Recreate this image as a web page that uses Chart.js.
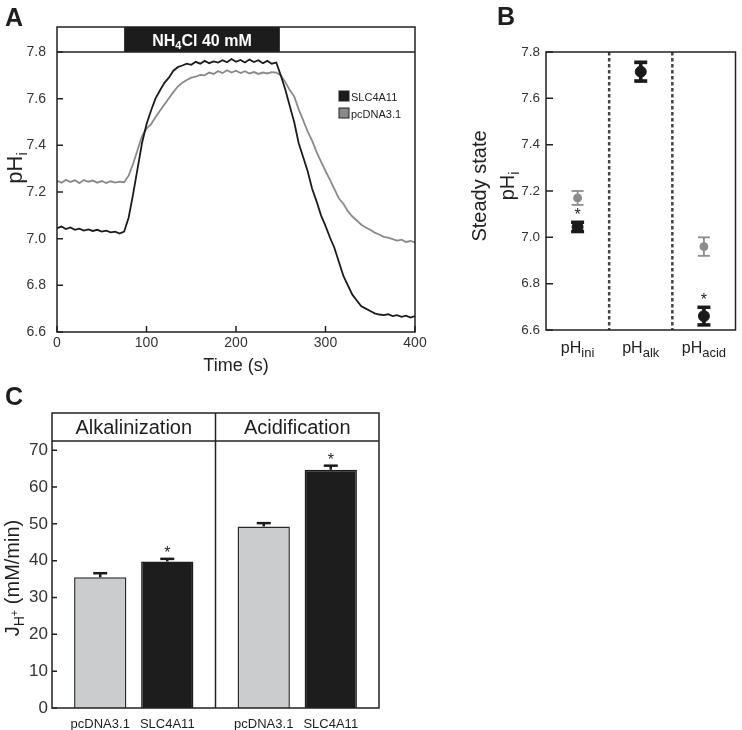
<!DOCTYPE html>
<html>
<head>
<meta charset="utf-8">
<script src="https://cdn.jsdelivr.net/npm/chart.js@4.4.0/dist/chart.umd.min.js"></script>
<style>
  body { margin: 0; background: #fff; width: 742px; height: 730px; position: relative; overflow: hidden;
         font-family: "Liberation Sans", Arial, sans-serif; }
  canvas { position: absolute; }
  .letter { position: absolute; font-weight: bold; font-size: 25px; line-height: 25px; color: #1e1e1e; }
</style>
</head>
<body>
<canvas id="chart-a" style="left:0;top:0" width="430" height="380"></canvas>
<canvas id="chart-b" style="left:440px;top:0" width="302" height="380"></canvas>
<canvas id="chart-c" style="left:0;top:380px" width="420" height="350"></canvas>
<div class="letter" style="left:5px;top:5px">A</div>
<div class="letter" style="left:497px;top:4px">B</div>
<div class="letter" style="left:5px;top:384px">C</div>
<script>
// ---- panel A: pHi trace (values read every 5 s) ----
const timeS = Array.from({ length: 81 }, (_, i) => i * 5);
const phSlc = [
  7.045, 7.052, 7.041, 7.048, 7.038, 7.043, 7.035, 7.040, 7.033, 7.038,
  7.030, 7.034, 7.027, 7.030, 7.022, 7.030, 7.090, 7.190, 7.300, 7.410,
  7.490, 7.548, 7.600, 7.635, 7.668, 7.690, 7.720, 7.735, 7.742, 7.750,
  7.745, 7.758, 7.750, 7.762, 7.752, 7.760, 7.755, 7.765, 7.756, 7.770,
  7.758, 7.766, 7.755, 7.768, 7.757, 7.765, 7.752, 7.762, 7.750, 7.755,
  7.700, 7.640, 7.570, 7.500, 7.410, 7.350, 7.290, 7.215, 7.160, 7.100,
  7.055, 7.005, 6.960, 6.900, 6.840, 6.800, 6.760, 6.735, 6.710, 6.700,
  6.690, 6.680, 6.675, 6.672, 6.676, 6.668, 6.672, 6.665, 6.670, 6.662,
  6.668
];
const phPc = [
  7.248, 7.240, 7.252, 7.243, 7.250, 7.238, 7.251, 7.244, 7.249, 7.240,
  7.247, 7.238, 7.246, 7.240, 7.244, 7.242, 7.270, 7.320, 7.380, 7.440,
  7.472, 7.490, 7.520, 7.548, 7.575, 7.602, 7.628, 7.652, 7.668, 7.680,
  7.690, 7.694, 7.702, 7.700, 7.712, 7.706, 7.718, 7.710, 7.722, 7.712,
  7.720, 7.710, 7.718, 7.708, 7.714, 7.706, 7.712, 7.708, 7.714, 7.712,
  7.700, 7.672, 7.637, 7.610, 7.555, 7.508, 7.460, 7.420, 7.372, 7.330,
  7.290, 7.252, 7.212, 7.172, 7.150, 7.118, 7.095, 7.078, 7.060, 7.048,
  7.038, 7.026, 7.018, 7.008, 7.004, 6.998, 6.992, 6.996, 6.986, 6.990,
  6.984
];
const pulseStart = 75;
const pulseEnd = 249;

// ---- panel B: steady state pHi ----
const ssCats = ["ini", "alk", "acid"];
const ssPcMean = [7.17, 7.715, 6.96];
const ssPcErr = [0.03, 0.045, 0.04];
const ssSlcMean = [7.045, 7.715, 6.66];
const ssSlcErr = [0.02, 0.04, 0.038];
const ssSig = [true, false, true];

// ---- panel C: proton flux ----
const fluxGroups = ["Alkalinization", "Acidification"];
const fluxCells = ["pcDNA3.1", "SLC4A11"];
const fluxPc = [35.5, 49.3];
const fluxPcErr = [1.1, 0.9];
const fluxSlc = [39.8, 64.7];
const fluxSlcErr = [0.7, 1.1];
const fluxSig = [true, true];
const fluxTicks = [0, 10, 20, 30, 40, 50, 60, 70];

const FONT = '"Liberation Sans", Arial, Helvetica, sans-serif';
Chart.defaults.font.family = FONT;
Chart.defaults.color = "#333";

// draw text made of pieces [text, size, dy, bold]
function textRun(ctx, parts, x, y, align) {
  let w = 0;
  parts.forEach(p => {
    ctx.font = (p[3] ? "bold " : "") + p[1] + "px " + FONT;
    w += ctx.measureText(p[0]).width;
  });
  let cx = align === "center" ? x - w / 2 : x;
  ctx.textAlign = "left";
  ctx.textBaseline = "alphabetic";
  parts.forEach(p => {
    ctx.font = (p[3] ? "bold " : "") + p[1] + "px " + FONT;
    ctx.fillText(p[0], cx, y + (p[2] || 0));
    cx += ctx.measureText(p[0]).width;
  });
}

function rotatedRun(ctx, parts, x, y) {
  ctx.save();
  ctx.translate(x, y);
  ctx.rotate(-Math.PI / 2);
  textRun(ctx, parts, 0, 0, "center");
  ctx.restore();
}

function inTicks(ctx, scale, a, len) {
  ctx.beginPath();
  scale.ticks.forEach(t => {
    const p = scale.getPixelForValue(t.value);
    if (scale.axis === "x") { ctx.moveTo(p, a.bottom); ctx.lineTo(p, a.bottom - len); }
    else { ctx.moveTo(a.left, p); ctx.lineTo(a.left + len, p); }
  });
  ctx.stroke();
}

function hline(ctx, x0, x1, y) { ctx.beginPath(); ctx.moveTo(x0, y); ctx.lineTo(x1, y); ctx.stroke(); }
function vline(ctx, x, y0, y1) { ctx.beginPath(); ctx.moveTo(x, y0); ctx.lineTo(x, y1); ctx.stroke(); }

// ================= A =================
const panelA = {
  id: "panelA",
  afterDraw(chart) {
    const { ctx, chartArea: a, scales: { x, y } } = chart;
    const barTop = 27;
    ctx.save();
    const x0 = x.getPixelForValue(pulseStart), x1 = x.getPixelForValue(pulseEnd);
    ctx.fillStyle = "#1c1c1c";
    ctx.fillRect(x0, barTop, x1 - x0, a.top - barTop);
    ctx.fillStyle = "#fff";
    textRun(ctx, [["NH", 16, 0, true], ["4", 11, 3, true], ["Cl 40 mM", 16, 0, true]], (x0 + x1) / 2, 46, "center");

    ctx.strokeStyle = "#222";
    ctx.lineWidth = 1.5;
    ctx.strokeRect(a.left, barTop, a.right - a.left, a.bottom - barTop);
    hline(ctx, a.left, a.right, a.top);
    inTicks(ctx, x, a, 6);
    inTicks(ctx, y, a, 6);

    // legend
    ctx.lineWidth = 1;
    ctx.fillStyle = "#1b1b1b";
    ctx.fillRect(339, 91, 10, 10);
    ctx.strokeRect(339, 91, 10, 10);
    ctx.fillStyle = "#8a8a8a";
    ctx.fillRect(339, 108, 10, 10);
    ctx.strokeRect(339, 108, 10, 10);
    ctx.fillStyle = "#222";
    textRun(ctx, [["SLC4A11", 11]], 351, 100.5, "left");
    textRun(ctx, [["pcDNA3.1", 11]], 351, 117.5, "left");

    textRun(ctx, [["Time (s)", 18]], (a.left + a.right) / 2, 371, "center");
    rotatedRun(ctx, [["pH", 22], ["i", 15, 5]], 22, 168);
    ctx.restore();
  }
};

new Chart(document.getElementById("chart-a"), {
  type: "line",
  data: {
    datasets: [
      {
        label: "SLC4A11",
        data: timeS.map((t, i) => ({ x: t, y: phSlc[i] })),
        borderColor: "#1b1b1b",
        borderWidth: 1.8,
        pointRadius: 0,
        tension: 0,
      },
      {
        label: "pcDNA3.1",
        data: timeS.map((t, i) => ({ x: t, y: phPc[i] })),
        borderColor: "#8a8a8a",
        borderWidth: 1.8,
        pointRadius: 0,
        tension: 0,
      },
    ],
  },
  options: {
    responsive: false,
    animation: false,
    layout: { padding: { left: 17, top: 52, right: 15, bottom: 28 } },
    plugins: { legend: { display: false }, tooltip: { enabled: false } },
    scales: {
      x: {
        type: "linear", min: 0, max: 400,
        ticks: { stepSize: 100, font: { size: 14 }, padding: 3, maxRotation: 0 },
        grid: { display: false, drawTicks: false },
        border: { display: false },
        afterFit(s) { s.height = 20; },
      },
      y: {
        min: 6.6, max: 7.8,
        ticks: { stepSize: 0.2, font: { size: 14 }, padding: 11, callback: v => v.toFixed(1) },
        grid: { display: false, drawTicks: false },
        border: { display: false },
        afterFit(s) { s.width = 40; },
      },
    },
  },
  plugins: [panelA],
});

// ================= B =================
const panelB = {
  id: "panelB",
  beforeDatasetsDraw(chart) {
    const { ctx, scales: { x, y } } = chart;
    ctx.save();
    const bars = [
      [ssPcMean, ssPcErr, "#8c8c8c", 1.8, 12],
      [ssSlcMean, ssSlcErr, "#1a1a1a", 3.5, 13],
    ];
    bars.forEach(([m, e, col, lw, cap]) => {
      ctx.strokeStyle = col;
      ctx.lineWidth = lw;
      m.forEach((v, i) => {
        const px = x.getPixelForValue(i);
        const hi = y.getPixelForValue(v + e[i]), lo = y.getPixelForValue(v - e[i]);
        vline(ctx, px, hi, lo);
        hline(ctx, px - cap / 2, px + cap / 2, hi);
        hline(ctx, px - cap / 2, px + cap / 2, lo);
      });
    });
    ctx.restore();
  },
  afterDraw(chart) {
    const { ctx, chartArea: a, scales: { x, y } } = chart;
    ctx.save();
    ctx.strokeStyle = "#444";
    ctx.lineWidth = 2.5;
    ctx.setLineDash([3.5, 2.5]);
    for (let i = 0; i < ssCats.length - 1; i++) {
      const px = (x.getPixelForValue(i) + x.getPixelForValue(i + 1)) / 2;
      vline(ctx, px, a.top, a.bottom);
    }
    ctx.setLineDash([]);
    ctx.strokeStyle = "#222";
    ctx.lineWidth = 1.5;
    ctx.strokeRect(a.left, a.top, a.right - a.left, a.bottom - a.top);
    inTicks(ctx, y, a, 7);

    ctx.fillStyle = "#222";
    ssCats.forEach((c, i) => {
      textRun(ctx, [["pH", 16], [c, 13, 4]], x.getPixelForValue(i), 353, "center");
      if (ssSig[i]) {
        const top = y.getPixelForValue(ssSlcMean[i] + ssSlcErr[i]);
        textRun(ctx, [["*", 16]], x.getPixelForValue(i), top - 2, "center");
      }
    });
    rotatedRun(ctx, [["Steady state", 20]], 46, 186);
    rotatedRun(ctx, [["pH", 20], ["i", 14, 5]], 74, 186);
    ctx.restore();
  }
};

new Chart(document.getElementById("chart-b"), {
  type: "line",
  data: {
    labels: ssCats,
    datasets: [
      {
        label: "SLC4A11",
        data: ssSlcMean,
        showLine: false,
        pointRadius: 5.5,
        pointBackgroundColor: "#1a1a1a",
        pointBorderColor: "#1a1a1a",
      },
      {
        label: "pcDNA3.1",
        data: ssPcMean,
        showLine: false,
        pointRadius: 4,
        pointBackgroundColor: "#8c8c8c",
        pointBorderColor: "#8c8c8c",
      },
    ],
  },
  options: {
    responsive: false,
    animation: false,
    layout: { padding: { left: 66, top: 52, right: 1, bottom: 50 } },
    plugins: { legend: { display: false }, tooltip: { enabled: false } },
    scales: {
      x: {
        offset: true,
        ticks: { display: false },
        grid: { display: false, drawTicks: false },
        border: { display: false },
        afterFit(s) { s.height = 0; },
      },
      y: {
        min: 6.6, max: 7.8,
        ticks: { stepSize: 0.2, font: { size: 13.5 }, padding: 6, callback: v => v.toFixed(1) },
        grid: { display: false, drawTicks: false },
        border: { display: false },
        afterFit(s) { s.width = 40; },
      },
    },
  },
  plugins: [panelB],
});

// ================= C =================
const headTop = 33;
const panelC = {
  id: "panelC",
  afterDatasetsDraw(chart) {
    const { ctx, scales: { y } } = chart;
    ctx.save();
    ctx.strokeStyle = "#1a1a1a";
    ctx.lineWidth = 2.5;
    [[fluxPc, fluxPcErr], [fluxSlc, fluxSlcErr]].forEach(([m, e], d) => {
      chart.getDatasetMeta(d).data.forEach((bar, j) => {
        const hi = y.getPixelForValue(m[j] + e[j]);
        vline(ctx, bar.x, y.getPixelForValue(m[j]), hi);
        hline(ctx, bar.x - 7, bar.x + 7, hi);
      });
    });
    ctx.restore();
  },
  afterDraw(chart) {
    const { ctx, chartArea: a, scales: { x, y } } = chart;
    ctx.save();
    ctx.strokeStyle = "#222";
    ctx.lineWidth = 1.5;
    ctx.strokeRect(a.left, headTop, a.right - a.left, a.bottom - headTop);
    hline(ctx, a.left, a.right, a.top);
    for (let j = 0; j < fluxGroups.length - 1; j++) {
      const px = (x.getPixelForValue(j) + x.getPixelForValue(j + 1)) / 2;
      vline(ctx, px, headTop, a.bottom);
    }
    inTicks(ctx, y, a, 5);

    ctx.fillStyle = "#1e1e1e";
    fluxGroups.forEach((g, j) => {
      textRun(ctx, [[g, 20]], x.getPixelForValue(j), 54, "center");
    });
    fluxCells.forEach((c, d) => {
      chart.getDatasetMeta(d).data.forEach(bar => {
        textRun(ctx, [[c, 13]], bar.x, 348, "center");
      });
    });
    chart.getDatasetMeta(1).data.forEach((bar, j) => {
      if (fluxSig[j]) {
        const top = y.getPixelForValue(fluxSlc[j] + fluxSlcErr[j]);
        textRun(ctx, [["*", 16]], bar.x, top - 1, "center");
      }
    });
    rotatedRun(ctx, [["J", 20], ["H", 14, 5], ["+", 11, -1], [" (mM/min)", 20]], 19, 198);
    ctx.restore();
  }
};

new Chart(document.getElementById("chart-c"), {
  type: "bar",
  data: {
    labels: fluxGroups,
    datasets: [
      {
        label: "pcDNA3.1",
        data: fluxPc,
        backgroundColor: "#cbccce",
        borderColor: "#2a2a2a",
        borderWidth: 1.5,
      },
      {
        label: "SLC4A11",
        data: fluxSlc,
        backgroundColor: "#1d1d1d",
        borderColor: "#1d1d1d",
        borderWidth: 1.5,
      },
    ],
  },
  options: {
    responsive: false,
    animation: false,
    categoryPercentage: 0.82,
    barPercentage: 0.78,
    layout: { padding: { left: 12, top: 61, right: 41, bottom: 22 } },
    plugins: { legend: { display: false }, tooltip: { enabled: false } },
    scales: {
      x: {
        ticks: { display: false },
        grid: { display: false, drawTicks: false },
        border: { display: false },
        afterFit(s) { s.height = 0; },
      },
      y: {
        min: 0, max: 72.5,
        ticks: { font: { size: 17 }, padding: 4 },
        grid: { display: false, drawTicks: false },
        border: { display: false },
        afterBuildTicks(s) { s.ticks = fluxTicks.map(v => ({ value: v })); },
        afterFit(s) { s.width = 40; },
      },
    },
  },
  plugins: [panelC],
});
</script>
</body>
</html>
